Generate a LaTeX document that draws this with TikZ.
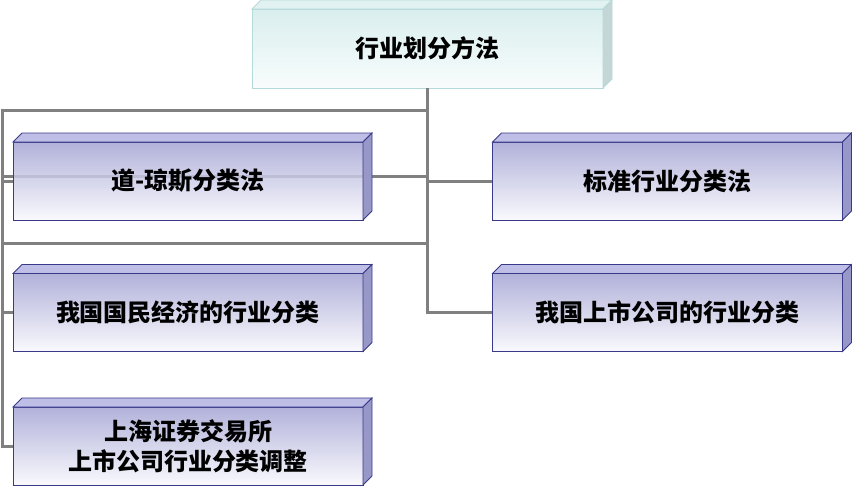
\documentclass[tikz,border=0pt]{standalone}
\usepackage{fontspec}
\newfontfamily\cjk{Noto Sans CJK SC}
\definecolor{linegray}{RGB}{128,128,128}
\definecolor{navyedge}{RGB}{58,58,138}
\definecolor{bluetop}{RGB}{164,164,212}
\definecolor{bluemid}{RGB}{182,182,224}
\definecolor{bluebot}{RGB}{248,248,253}
\definecolor{bluelid}{RGB}{190,190,230}
\definecolor{blueside}{RGB}{152,152,200}
\definecolor{cyantop}{RGB}{218,238,238}
\definecolor{cyanbot}{RGB}{248,252,252}
\definecolor{cyanedge}{RGB}{180,218,218}
\definecolor{cyanlid}{RGB}{226,242,242}
\definecolor{cyanside}{RGB}{196,214,214}
\tikzset{
  conn/.style={draw=linegray, line width=3pt},
  bluebox/.style={draw=navyedge, line width=0.8pt, top color=bluetop, middle color=bluemid, bottom color=bluebot,
    fill opacity=0.85, text opacity=1, minimum width=350pt, minimum height=78pt,
    outer sep=0pt, inner sep=0pt, font=\cjk\bfseries\fontsize{24}{30}\selectfont, align=center},
  cyanbox/.style={draw=cyanedge, line width=0.8pt, top color=cyantop, bottom color=cyanbot,
    minimum width=351pt, minimum height=79pt, outer sep=0pt, inner sep=0pt,
    font=\cjk\bfseries\fontsize{24}{30}\selectfont},
  bluelidf/.style={fill=bluelid, draw=navyedge, line width=0.8pt},
  bluesidef/.style={fill=blueside, draw=navyedge, line width=0.8pt},
  cyanlidf/.style={fill=cyanlid, draw=cyanedge, line width=0.8pt},
  cyansidef/.style={fill=cyanside, draw=cyanedge, line width=0.8pt},
}
\newcommand\cubefaces[3]{%
  \filldraw[#2] (#1.north west) -- ([shift={(9,-9)}]#1.north west) -- ([shift={(9,-9)}]#1.north east) -- (#1.north east) -- cycle;
  \filldraw[#3] (#1.north east) -- ([shift={(9,-9)}]#1.north east) -- ([shift={(9,-9)}]#1.south east) -- (#1.south east) -- cycle;
}
\begin{document}
\begin{tikzpicture}[x=1pt, y=-1pt]
\useasboundingbox (0,0) rectangle (852,488);
\node[cyanbox] (top) at (427.5,48.5) {行业划分方法};
\coordinate (L1) at (2,110);
\coordinate (L2) at (2,176);
\coordinate (L3) at (2,243);
% connectors
\draw[conn] (top.south) |- (L1) |- (13,181);
\draw[conn] (top.south) |- (L2);
\draw[conn] (top.south) |- (L3);
\draw[conn] (L1) -- (L3);
\draw[conn] (top.south) |- (492,181);
\draw[conn] (top.south) |- (492,312.5);
\draw[conn] (L3) |- (13,312.5);
\draw[conn] (L3) |- (13,446);
% boxes
\node[bluebox] (djs) at (188,181) {道-琼斯分类法};
\cubefaces{djs}{bluelidf}{bluesidef}
\node[bluebox] (std) at (667.5,181) {标准行业分类法};
\cubefaces{std}{bluelidf}{bluesidef}
\node[bluebox] (gm) at (188,312.5) {我国国民经济的行业分类};
\cubefaces{gm}{bluelidf}{bluesidef}
\node[bluebox] (ss) at (667.5,312.5) {我国上市公司的行业分类};
\cubefaces{ss}{bluelidf}{bluesidef}
\node[bluebox] (sh) at (188,446) {上海证券交易所\\上市公司行业分类调整};
\cubefaces{sh}{bluelidf}{bluesidef}
\cubefaces{top}{cyanlidf}{cyansidef}
\end{tikzpicture}
\end{document}
